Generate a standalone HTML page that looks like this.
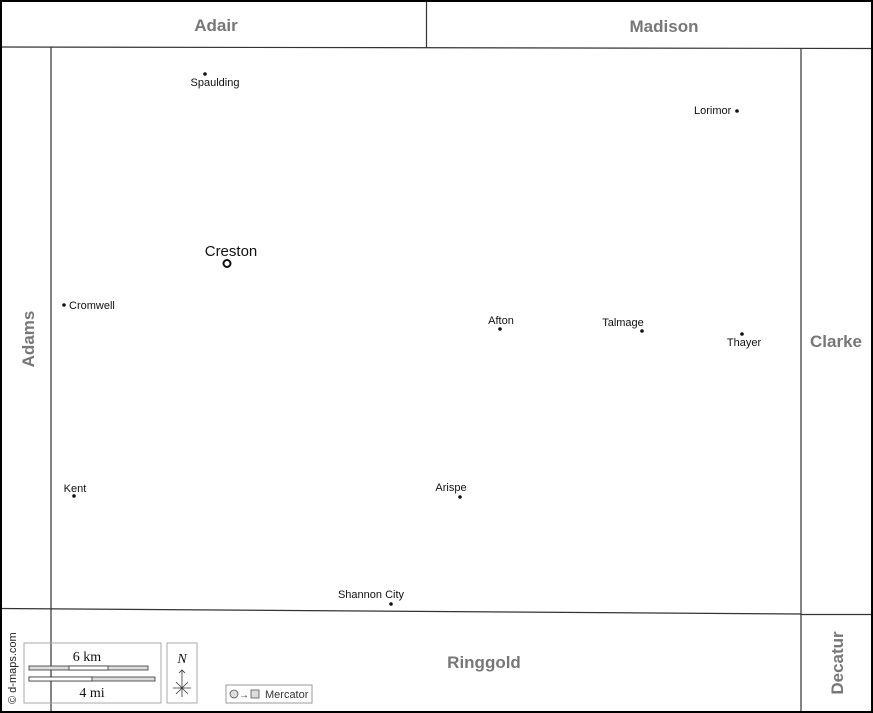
<!DOCTYPE html>
<html><head><meta charset="utf-8"><style>
html,body{margin:0;padding:0;background:#fff}
svg{display:block}
text{font-family:"Liberation Sans",sans-serif}
</style></head><body>
<svg width="873" height="713" viewBox="0 0 873 713" xmlns="http://www.w3.org/2000/svg">
<rect x="0" y="0" width="873" height="713" fill="#fff"/>
<g stroke="#333" stroke-width="1.2" fill="none">
<line x1="0" y1="47" x2="873" y2="48.5"/>
<line x1="426.5" y1="0" x2="426.5" y2="47.5"/>
<line x1="51" y1="47" x2="51" y2="713"/>
<line x1="801" y1="48" x2="801" y2="713"/>
<line x1="0" y1="608.5" x2="801" y2="614"/>
<line x1="801" y1="614.5" x2="873" y2="614.5"/>
</g>
<rect x="1" y="1" width="871" height="711" fill="none" stroke="#000" stroke-width="2"/>
<g font-weight="bold" fill="#777" font-size="17" text-anchor="middle">
<text x="216" y="31">Adair</text>
<text x="664" y="32">Madison</text>
<text x="836" y="347">Clarke</text>
<text x="484" y="668">Ringgold</text>
<text transform="translate(34,339) rotate(-90)">Adams</text>
<text transform="translate(843,663) rotate(-90)">Decatur</text>
</g>
<g font-size="11" fill="#111">
<text x="215" y="86" text-anchor="middle">Spaulding</text>
<text x="694" y="114">Lorimor</text>
<text x="69" y="309">Cromwell</text>
<text x="501" y="324" text-anchor="middle">Afton</text>
<text x="623" y="326" text-anchor="middle">Talmage</text>
<text x="744" y="346" text-anchor="middle">Thayer</text>
<text x="75" y="492" text-anchor="middle">Kent</text>
<text x="451" y="491" text-anchor="middle">Arispe</text>
<text x="371" y="598" text-anchor="middle">Shannon City</text>
<text x="231" y="256" text-anchor="middle" font-size="15">Creston</text>
</g>
<g fill="#111">
<circle cx="205" cy="74" r="1.8"/>
<circle cx="737" cy="111" r="1.8"/>
<circle cx="64" cy="305" r="1.8"/>
<circle cx="500" cy="329" r="1.8"/>
<circle cx="642" cy="331" r="1.8"/>
<circle cx="742" cy="334" r="1.8"/>
<circle cx="74" cy="496" r="1.8"/>
<circle cx="460" cy="497" r="1.8"/>
<circle cx="391" cy="604" r="1.8"/>
</g>
<circle cx="227" cy="263.5" r="3.5" fill="#fff" stroke="#111" stroke-width="2"/>
<text transform="translate(16,704) rotate(-90)" font-size="11" fill="#222">© d-maps.com</text>
<rect x="24" y="643" width="137" height="60" fill="none" stroke="#aaa"/>
<text x="87" y="661" style="font-family:'Liberation Serif',serif" font-size="14" text-anchor="middle" fill="#111">6 km</text>
<rect x="29" y="666" width="119" height="4" fill="#ddd" stroke="#333" stroke-width="0.8"/>
<rect x="69" y="666" width="39" height="4" fill="#fff" stroke="#333" stroke-width="0.8"/>
<rect x="29" y="677" width="126" height="4" fill="#ddd" stroke="#333" stroke-width="0.8"/>
<rect x="29" y="677" width="63" height="4" fill="#fff" stroke="#333" stroke-width="0.8"/>
<text x="92" y="697" style="font-family:'Liberation Serif',serif" font-size="14" text-anchor="middle" fill="#111">4 mi</text>
<rect x="167" y="643" width="30" height="60" fill="none" stroke="#aaa"/>
<text x="182" y="663" style="font-family:'Liberation Serif',serif" font-style="italic" font-size="14" text-anchor="middle" fill="#111">N</text>
<g stroke="#333" stroke-width="0.8">
<line x1="182" y1="670" x2="182" y2="697"/>
<line x1="173" y1="688" x2="191" y2="688"/>
<line x1="176" y1="682" x2="188" y2="694"/>
<line x1="188" y1="682" x2="176" y2="694"/>
<polyline points="179,673 182,670 185,673" fill="none"/>
</g>
<rect x="226" y="685" width="86" height="18" fill="#fff" stroke="#999"/>
<circle cx="234" cy="694" r="4" fill="#ddd" stroke="#555" stroke-width="0.8"/>
<text x="239" y="698" font-size="10" fill="#333">→</text>
<rect x="251" y="690" width="8" height="8" fill="#ddd" stroke="#555" stroke-width="0.8"/>
<text x="265" y="698" font-size="11" fill="#333">Mercator</text>
</svg>
</body></html>
